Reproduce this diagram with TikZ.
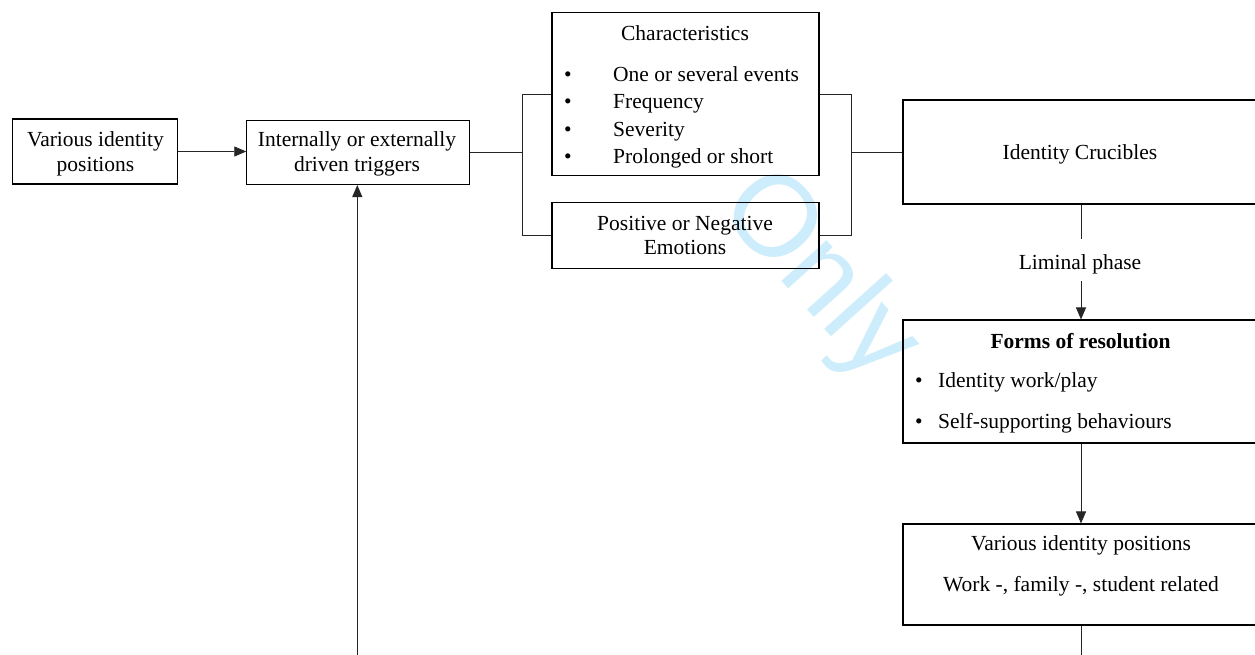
\documentclass[tikz,border=0pt]{standalone}
\usepackage{fontspec}
\setmainfont{Liberation Serif}
\newfontfamily\wmfont{Liberation Sans}
\usetikzlibrary{arrows.meta}
\definecolor{wmcol}{RGB}{205,237,252}
\begin{document}
\begin{tikzpicture}[x=1pt,y=-1pt,
  every node/.style={font=\fontsize{21.5}{25}\selectfont, inner sep=0pt},
  box/.style 2 args={draw=black, line width=1.1pt, minimum width=#1, minimum height=#2},
  ln/.style={draw=black!85, line width=0.9pt},
  arr/.style={ln, -{Triangle[length=12pt,width=10pt]}},
  txt/.style={anchor=base},
  itm/.style={anchor=base west}]
\clip (0,0) rectangle (1255,654);
\fill[white] (0,0) rectangle (1255,654);
% watermark
\node[font=\wmfont\fontsize{115}{115}\selectfont, text=wmcol, rotate=-48] (wmark) at (818,277) {Only};
% boxes
\node[box={165}{65}] (posA) at (95.2,151.5) {};
\node[box={223}{64}] (trig) at (358.3,152.5) {};
\node[box={267}{163}] (char) at (685.5,94.2) {};
\node[box={267}{66}] (emo) at (685.5,235.3) {};
\node[box={356}{104}] (cruc) at (1081,152) {};
\node[box={356}{123}] (form) at (1081,381.5) {};
\node[box={356}{101}] (vip) at (1081,574.5) {};
% texts
\node[txt] (tA1) at (95.5,146) {Various identity};
\node[txt] (tA2) at (95.5,171) {positions};
\node[txt] (tB1) at (357,146.5) {Internally or externally};
\node[txt] (tB2) at (357,171.5) {driven triggers};
\node[txt] (tC0) at (685,40) {Characteristics};
\node[txt] (bC1) at (568,81) {•};
\node[txt] (bC2) at (568,108) {•};
\node[txt] (bC3) at (568,136) {•};
\node[txt] (bC4) at (568,163) {•};
\node[itm] (tC1) at (613,81) {One or several events};
\node[itm] (tC2) at (613,108) {Frequency};
\node[itm] (tC3) at (613,136) {Severity};
\node[itm] (tC4) at (613,163) {Prolonged or short};
\node[txt] (tE1) at (685,230) {Positive or Negative};
\node[txt] (tE2) at (685,254) {Emotions};
\node[txt] (tCr) at (1080,159) {Identity Crucibles};
\node[txt] (lim) at (1080,269) {Liminal phase};
\node[txt, font=\fontsize{21.5}{25}\selectfont\bfseries] (tF0) at (1080.5,348) {Forms of resolution};
\node[txt] (bF1) at (919,387) {•};
\node[txt] (bF2) at (919,428) {•};
\node[itm] (tF1) at (938,387) {Identity work/play};
\node[itm] (tF2) at (938,428) {Self-supporting behaviours};
\node[txt] (tV1) at (1081,550) {Various identity positions};
\node[txt] (tV2) at (1081,591) {Work -, family -, student related};
% coordinates
\coordinate (lbT) at (522.3,94.3);
\coordinate (lbB) at (522.3,235.3);
\coordinate (lbM) at (522.3,152.5);
\coordinate (rbT) at (851,94.3);
\coordinate (rbB) at (851,235.3);
\coordinate (rbM) at (851,152.5);
\coordinate (limTop) at (1081,239);
\coordinate (limBot) at (1081,281);
\coordinate (vipEnd) at (1081,665);
\coordinate (upStart) at (357.3,665);
% connectors
\draw[arr] (posA.east) -- (posA.east -| trig.west);
\draw[ln] (trig.east) -- (lbM);
\draw[ln] (char.west |- lbT) -- (lbT) -- (lbB) -- (emo.west |- lbB);
\draw[ln] (char.east |- rbT) -- (rbT) -- (rbB) -- (emo.east |- rbB);
\draw[ln] (rbM) -- (cruc.west |- rbM);
\draw[ln] (cruc.south) -- (limTop);
\draw[arr] (limBot) -- (form.north);
\draw[arr] (form.south) -- (vip.north);
\draw[ln] (vip.south) -- (vipEnd);
\draw[arr] (upStart) -- (upStart |- trig.south);
\end{tikzpicture}
\end{document}
